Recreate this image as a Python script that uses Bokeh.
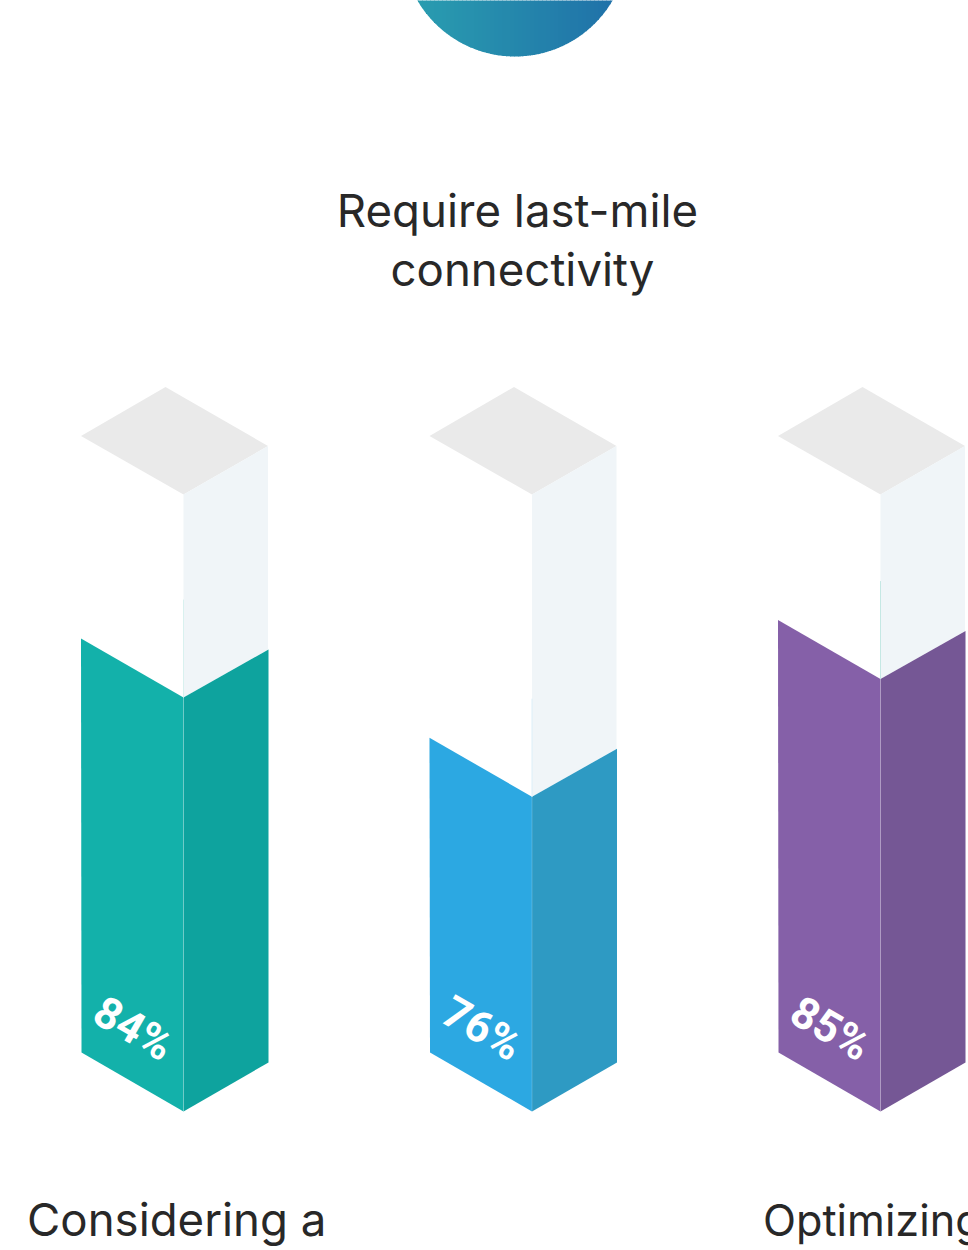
from bokeh.plotting import figure
from bokeh.models import Range1d
from bokeh.core.properties import value
from bokeh.embed import file_html
from bokeh.resources import INLINE
import math

# --- data
labels = ["84%", "76%", "85%"]
fill_share = [67.2, 51.1, 70.2]          # drawn height of each column, % of its full height
front_colors = ["#13B1AA", "#2CA8E2", "#8560A8"]
side_colors = ["#0EA39E", "#2E9AC3", "#755795"]
seam_colors = ["#D9F1EF", "#DCEFF8", "#C5E8E4"]
captions = ["Considering a", "Optimizing"]
caption_sizes = ["45.6px", "43.2px"]
title_lines = ["Require last-mile", "connectivity"]

# --- layout, in page pixels
FONT = "Inter"
left = [80.5, 429, 777.5]
mid_dx, right_dx = 102.5, 187
base_y, full_h = 1052, 616
drop = 59

p = figure(width=968, height=1250, output_backend="svg", toolbar_location=None,
           x_range=Range1d(0, 968), y_range=Range1d(1250, 0),
           min_border=0, background_fill_color="white", border_fill_color="white")
p.axis.visible = False
p.grid.visible = False
p.outline_line_color = None

# circle at the top, with a stepped horizontal gradient
cx, cy, r = 514.5, -57, 113
c0, c1 = (42, 160, 176), (31, 110, 168)
x = cx - r
xs, ys, cols = [], [], []
step = 4
while x < cx + r:
    x2 = min(x + step, cx + r)
    pts = [min(x + (x2 + .6 - x) * i / 4, cx + r) for i in range(5)]
    h = [math.sqrt(max(r * r - (q - cx) ** 2, 0)) for q in pts]
    xs.append(pts + pts[::-1])
    ys.append([cy + v for v in h] + [cy - v for v in h[::-1]])
    t = (x + step / 2 - (cx - r)) / (2 * r)
    cols.append("#%02x%02x%02x" % tuple(round(a + (b - a) * t) for a, b in zip(c0, c1)))
    x = x2
p.patches(xs, ys, fill_color=cols, line_color=None)

# columns
for i, L in enumerate(left):
    m, R = L + mid_dx, L + right_dx
    fill_y = base_y - full_h * fill_share[i] / 100
    top_y = base_y - full_h
    p.patch([L, L + 84.5, R, m], [top_y - .5, top_y - 49.5, top_y + 9.5, top_y + 58],
            fill_color="#EAEAEA", line_color=None)
    p.patch([m, R, R, m], [top_y + 58, top_y + 9.5, fill_y + 11, fill_y + drop],
            fill_color="#F0F5F8", line_color=None)
    p.patch([L, m, m, L + .5], [fill_y, fill_y + drop, base_y + drop, base_y],
            fill_color=front_colors[i], line_color=None)
    p.patch([m, R + .5, R + .5, m], [fill_y + drop, fill_y + 11, base_y + 10, base_y + drop],
            fill_color=side_colors[i], line_color=None)
    p.line([m, m], [fill_y + drop - 98, fill_y + drop], line_color=seam_colors[i], line_width=1)
    p.line([m, m], [fill_y + drop, base_y + drop], line_color="#FFFFFF", line_alpha=.2, line_width=1)
    p.text([L + 52.5], [base_y - 24], text=[labels[i]], angle=-30, angle_units="deg",
           text_font=value("Roboto"), text_font_style="bold", text_font_size="44px", text_color="#FFFFFF",
           text_align="center", text_baseline="middle")

# texts
p.text([517, 522], [210, 269], text=title_lines, text_font=value(FONT), text_font_size="45.6px",
       text_color="#282828", text_align="center", text_baseline="alphabetic")
for cap_x, cap, size in zip([26.5, 762.5], captions, caption_sizes):
    p.text([cap_x], [1219], text=[cap], text_font=value(FONT), text_font_size=size,
           text_color="#282828", text_align="left", text_baseline="alphabetic")

open("out.html", "w").write(file_html(p, INLINE))
